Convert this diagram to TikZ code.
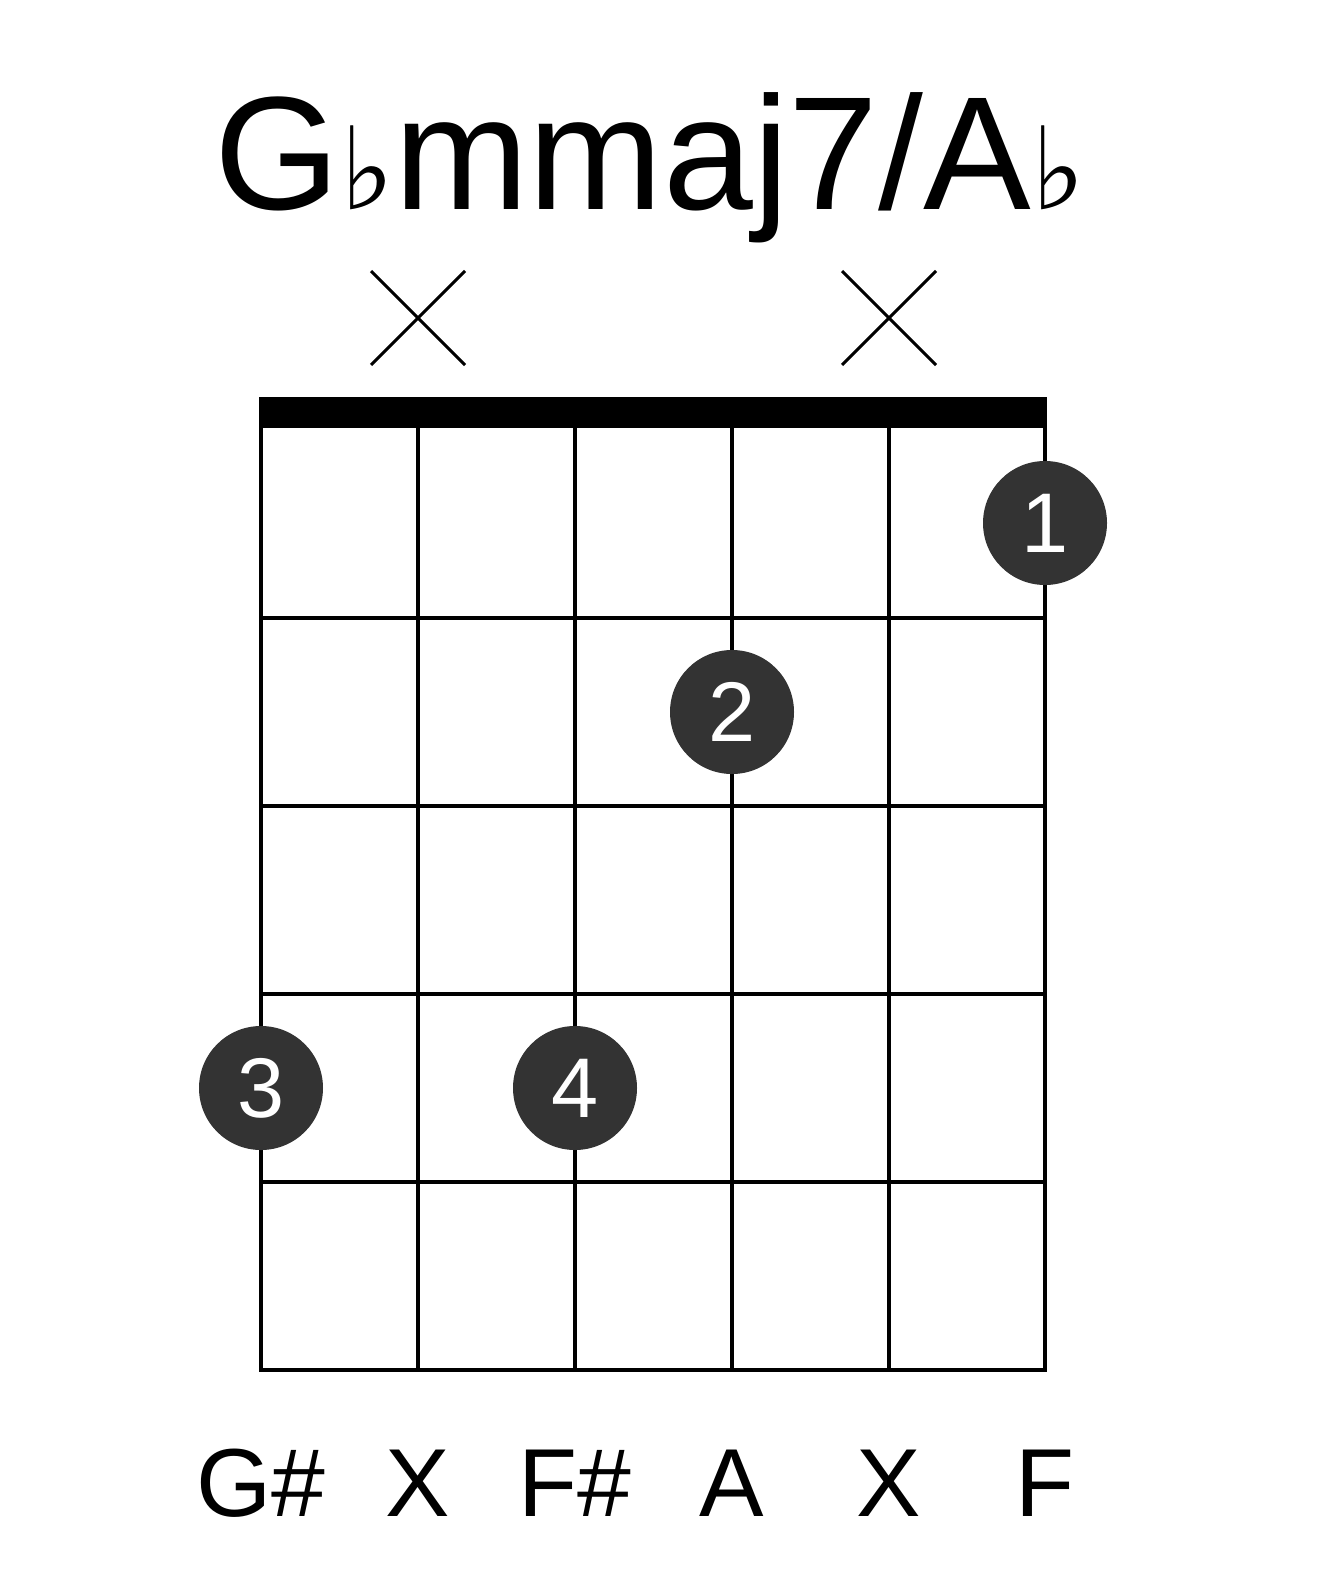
\documentclass[tikz,border=0pt]{standalone}
\usepackage{fontspec}
\setmainfont{Liberation Sans}
\newfontfamily\symfont{DejaVu Sans}
\begin{document}
\begin{tikzpicture}[x=1bp,y=-1bp,
  gridline/.style={line width=4bp},
  fing/.style={circle,fill=black!80,minimum size=124bp,inner sep=0pt,text=white,font=\fontsize{85}{85}\selectfont},
  lbl/.style={font=\fontsize{97}{97}\selectfont},
  xmark/.style={line width=3bp}]
\useasboundingbox (0,0) rectangle (1317,1581);
\node[font=\fontsize{162}{162}\selectfont] (title) at (650,168) {G{\symfont\fontsize{115}{115}\selectfont ♭}mmaj7/A{\symfont\fontsize{115}{115}\selectfont ♭}};
\foreach \x in {418,889}{\draw[xmark] (\x-47,271) -- (\x+47,365) (\x-47,365) -- (\x+47,271);}
\fill (259,397) rectangle (1047,428);
\foreach \x in {261,418,575,732,889,1045} \draw[gridline] (\x,426) -- (\x,1370);
\foreach \y in {618,806,994,1182,1370} \draw[gridline] (259,\y) -- (1047,\y);
\node[fing] (f1) at (1045,523) {1};
\node[fing] (f2) at (732,712) {2};
\node[fing] (f3) at (261,1088) {3};
\node[fing] (f4) at (575,1088) {4};
\foreach \x/\t in {261/G\#,418/X,575/F\#,732/A,889/X,1045/F}
  \node[lbl] at (\x,1483) {\t};
\end{tikzpicture}
\end{document}
